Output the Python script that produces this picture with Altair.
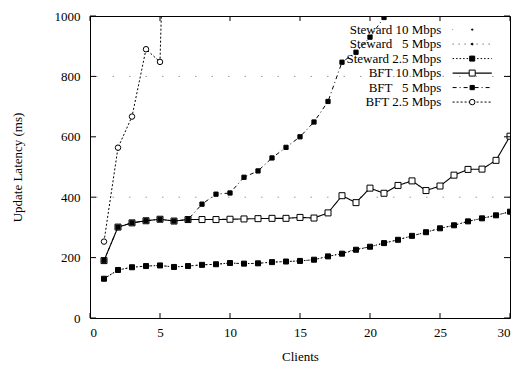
import altair as alt
import pandas as pd

# ---------------- data ----------------
clients = list(range(1, 31))

steward_25 = [130, 159, 168, 172, 174, 169, 172, 176, 178, 182, 180, 181, 185, 187, 189,
              193, 204, 213, 226, 236, 248, 259, 272, 284, 297, 307, 320, 330, 340, 352]
# Steward 10 / 5 Mbps are drawn underneath Steward 2.5 Mbps (hidden by it)
steward_10 = [130, 159, 168, 172, 174, 169, 172, 176, 178, 182, 180, 181, 185, 187, 189,
              193, 204, 213, 226, 236, 248, 259, 272, 284, 297, 307, 320, 330, 340, 352]
steward_5 = [130, 159, 168, 172, 174, 169, 172, 176, 178, 182, 180, 181, 185, 187, 189,
             193, 204, 215, 228, 236, 248, 259, 272, 284, 297, 307, 320, 330, 340, 352]

bft_10 = [190, 301, 315, 322, 327, 321, 326, 326, 326, 327, 328, 329, 330, 330, 333,
          331, 348, 405, 382, 430, 413, 439, 454, 422, 437, 473, 492, 493, 522, 602]

bft_5_clients = list(range(1, 23))
bft_5 = [190, 301, 315, 322, 327, 321, 326, 377, 410, 414, 466, 487, 530, 565, 600,
         649, 717, 847, 880, 930, 995, 1100]

bft_25_clients = [1, 2, 3, 4, 5, 6]
bft_25 = [253, 564, 667, 890, 848, 2500]

x_ticks = [0, 5, 10, 15, 20, 25, 30]
y_ticks = [0, 200, 400, 600, 800, 1000]
grid_levels = [400, 800]

series_names = ["Steward 10 Mbps", "Steward \u20075 Mbps", "Steward 2.5 Mbps",
                "BFT 10 Mbps", "BFT \u20075 Mbps", "BFT 2.5 Mbps"]

# ---------------- styling ----------------
W, H = 420, 302
FONT = "Liberation Serif"

x_scale = alt.Scale(domain=[0, 30], nice=False, zero=False)
y_scale = alt.Scale(domain=[0, 1000], nice=False, zero=False)

x_axis = alt.Axis(values=x_ticks, format="d", ticks=False, domain=False, grid=False,
                  labelFont=FONT, labelFontSize=13, labelPadding=8, labelColor="black",
                  labelFontWeight="normal",
                  title="Clients", titleFont=FONT, titleFontSize=13, titleFontWeight="normal",
                  titleColor="black", titleY=38, titleBaseline="middle")
y_axis = alt.Axis(values=y_ticks, format="d", ticks=False, domain=False, grid=False,
                  labelFont=FONT, labelFontSize=13, labelPadding=10, labelColor="black",
                  labelFontWeight="normal",
                  title="Update Latency (ms)", titleFont=FONT, titleFontSize=13,
                  titleFontWeight="normal", titleColor="black", titleX=-73, titleY=H / 2,
                  titleBaseline="middle", titleAngle=270)


def X(field="x"):
    return alt.X(f"{field}:Q", scale=x_scale, axis=x_axis)


def Y(field="y"):
    return alt.Y(f"{field}:Q", scale=y_scale, axis=y_axis)


styles = {
    "Steward 10 Mbps": dict(dash=[1, 7], ldash=[0.5, 100], shape="circle", size=2,
                            fill="black", stroke="black", sw=0.8),
    "Steward \u20075 Mbps": dict(dash=[1, 4], ldash=[1, 5], shape="circle", size=3,
                                 fill="black", stroke="black", sw=0.8),
    "Steward 2.5 Mbps": dict(dash=[1.5, 2], ldash=[1.5, 2], shape="square", size=25,
                             fill="black", stroke="black", sw=1),
    "BFT 10 Mbps": dict(dash=[1, 0], ldash=[1, 0], shape="square", size=36,
                        fill="white", stroke="black", sw=1.1),
    "BFT \u20075 Mbps": dict(dash=[4, 3, 1, 3], ldash=[4, 3, 1, 3], shape="square", size=18,
                             fill="black", stroke="black", sw=1),
    "BFT 2.5 Mbps": dict(dash=[2, 2], ldash=[2, 2], shape="circle", size=30,
                         fill="white", stroke="black", sw=1),
}

series_data = {
    "Steward 10 Mbps": (clients, steward_10),
    "Steward \u20075 Mbps": (clients, steward_5),
    "Steward 2.5 Mbps": (clients, steward_25),
    "BFT 10 Mbps": (clients, bft_10),
    "BFT \u20075 Mbps": (bft_5_clients, bft_5),
    "BFT 2.5 Mbps": (bft_25_clients, bft_25),
}

layers = []

# faint dotted reference lines
grid_df = pd.DataFrame({"y": grid_levels})
layers.append(alt.Chart(grid_df).mark_rule(color="#9a9a9a", strokeWidth=1, strokeDash=[1.5, 15])
              .encode(y=Y()))

# series
for name in series_names:
    xs, ys = series_data[name]
    st = styles[name]
    df = pd.DataFrame({"x": xs, "y": ys})
    layers.append(alt.Chart(df).mark_line(color="black", strokeWidth=st["sw"],
                                          strokeDash=st["dash"], clip=True)
                  .encode(x=X(), y=Y()))
    layers.append(alt.Chart(df).mark_point(shape=st["shape"], size=st["size"], filled=True,
                                           fill=st["fill"], stroke=st["stroke"], strokeWidth=1,
                                           opacity=1, clip=True)
                  .encode(x=X(), y=Y()))

# manual legend (text on the left, sample on the right, as in gnuplot)
leg_top, leg_step = 955, 48
for i, name in enumerate(series_names):
    st = styles[name]
    ly = leg_top - leg_step * i
    tdf = pd.DataFrame({"x": [25.1], "y": [ly], "label": [name]})
    layers.append(alt.Chart(tdf).mark_text(align="right", baseline="middle", font=FONT,
                                           fontSize=13, fontWeight="normal", color="black")
                  .encode(x=X(), y=Y(), text="label:N"))
    rdf = pd.DataFrame({"x": [25.9], "x2": [28.7], "y": [ly]})
    layers.append(alt.Chart(rdf).mark_rule(color="black", strokeWidth=st["sw"], strokeDash=st["ldash"])
                  .encode(x=X(), x2="x2:Q", y=Y()))
    pdf = pd.DataFrame({"x": [27.3], "y": [ly]})
    layers.append(alt.Chart(pdf).mark_point(shape=st["shape"], size=st["size"], filled=True,
                                            fill=st["fill"], stroke=st["stroke"], strokeWidth=1,
                                            opacity=1)
                  .encode(x=X(), y=Y()))

# inward tick marks on all four sides
xt = pd.DataFrame({"x": x_ticks})
yt = pd.DataFrame({"y": y_ticks})
layers.append(alt.Chart(xt).mark_rule(color="black", strokeWidth=1)
              .encode(x=X(), y=alt.value(H), y2=alt.value(H - 5)))
layers.append(alt.Chart(xt).mark_rule(color="black", strokeWidth=1)
              .encode(x=X(), y=alt.value(0), y2=alt.value(5)))
layers.append(alt.Chart(yt).mark_rule(color="black", strokeWidth=1)
              .encode(y=Y(), x=alt.value(0), x2=alt.value(6)))
layers.append(alt.Chart(yt).mark_rule(color="black", strokeWidth=1)
              .encode(y=Y(), x=alt.value(W), x2=alt.value(W - 6)))

chart = alt.layer(*layers).properties(
    width=W, height=H,
    autosize=alt.AutoSizeParams(type="none"),
    padding={"left": 82, "top": 8, "right": 12, "bottom": 48},
    background="white",
).configure_view(stroke="black", strokeWidth=1)

chart.save("out.html", embed_options={"renderer": "svg", "actions": False})
